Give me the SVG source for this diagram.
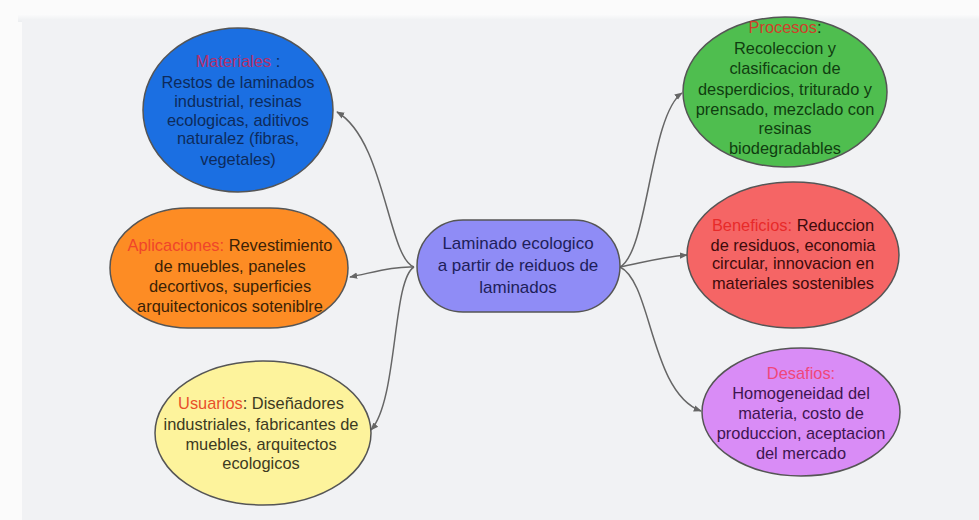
<svg xmlns="http://www.w3.org/2000/svg" width="979" height="520" viewBox="0 0 979 520">
<defs>
<marker id="arr" viewBox="0 0 10 10" refX="9" refY="5" markerWidth="8" markerHeight="8" markerUnits="userSpaceOnUse" orient="auto">
<path d="M0,1 L10,5 L0,9 Z" fill="#666"/>
</marker>
<linearGradient id="topsh" x1="0" y1="0" x2="0" y2="1">
<stop offset="0" stop-color="#fcfcfc"/><stop offset="1" stop-color="#eceef0"/>
</linearGradient>
<style>
.n{stroke:#555;stroke-width:1.5}
.t{font-family:"Liberation Sans",Arial,sans-serif;font-size:16.4px;text-anchor:middle}
.c{fill:none;stroke:#666;stroke-width:1.5;marker-end:url(#arr)}
</style>
</defs>
<rect width="979" height="520" fill="#fbfbfb"/>
<rect x="18" y="14" width="961" height="8" fill="url(#topsh)"/>
<rect x="22" y="20" width="957" height="500" fill="#f1f2f4"/>

<g id="connectors">
<path class="c" d="M414,267 C388,258 385,140 337,112"/>
<path class="c" d="M414,267 C395,266 375,272 350,277"/>
<path class="c" d="M414,267 C392,280 398,400 371,430"/>
<path class="c" d="M620,267 C648,252 650,115 682,93"/>
<path class="c" d="M620,267 C645,262 662,257 687,255"/>
<path class="c" d="M620,267 C652,282 650,392 701,411"/>
</g>

<g id="materiales">
<ellipse class="n" cx="238" cy="110" rx="95" ry="82" fill="#1b6fe2"/>
<text class="t" fill="#0d2b5c"><tspan x="238" y="67"><tspan fill="#b4306c">Materiales</tspan> :</tspan><tspan x="238" y="88">Restos de laminados</tspan><tspan x="238" y="107">industrial, resinas</tspan><tspan x="238" y="126">ecologicas, aditivos</tspan><tspan x="238" y="144">naturalez (fibras,</tspan><tspan x="238" y="165">vegetales)</tspan></text>
</g>

<g id="aplicaciones">
<rect class="n" x="110" y="208" width="238" height="120" rx="78" ry="60" fill="#fd8c24"/>
<text class="t" fill="#3b2206"><tspan x="230" y="251"><tspan fill="#f0452a">Aplicaciones:</tspan> Revestimiento</tspan><tspan x="230" y="272">de muebles, paneles</tspan><tspan x="230" y="292">decortivos, superficies</tspan><tspan x="230" y="312">arquitectonicos soteniblre</tspan></text>
</g>

<g id="usuarios">
<ellipse class="n" cx="263" cy="433" rx="108" ry="72" fill="#fdf39c"/>
<text class="t" fill="#3c3a22"><tspan x="261" y="409"><tspan fill="#e8502a">Usuarios</tspan>: Diseñadores</tspan><tspan x="261" y="430">industriales, fabricantes de</tspan><tspan x="261" y="450">muebles, arquitectos</tspan><tspan x="261" y="469">ecologicos</tspan></text>
</g>

<g id="central">
<rect class="n" x="417" y="220" width="203" height="92" rx="46" ry="46" fill="#8f8cf6"/>
<text class="t" style="font-size:17px" fill="#1e1e5a"><tspan x="518" y="249">Laminado ecologico</tspan><tspan x="518" y="271">a partir de reiduos de</tspan><tspan x="518" y="293">laminados</tspan></text>
</g>

<g id="procesos">
<ellipse class="n" cx="785" cy="92" rx="102" ry="75" fill="#4fbe4f"/>
<text class="t" fill="#103d10"><tspan x="785" y="33"><tspan fill="#d0402a">Procesos</tspan>:</tspan><tspan x="785" y="54">Recoleccion y</tspan><tspan x="785" y="74">clasificacion de</tspan><tspan x="785" y="95">desperdicios, triturado y</tspan><tspan x="785" y="115">prensado, mezclado con</tspan><tspan x="785" y="134">resinas</tspan><tspan x="785" y="154">biodegradables</tspan></text>
</g>

<g id="beneficios">
<ellipse class="n" cx="793" cy="255" rx="106" ry="73" fill="#f56565"/>
<text class="t" fill="#3d0b0b"><tspan x="793" y="231"><tspan fill="#e82a2a">Beneficios:</tspan> Reduccion</tspan><tspan x="793" y="251">de residuos, economia</tspan><tspan x="793" y="269">circular, innovacion en</tspan><tspan x="793" y="289">materiales sostenibles</tspan></text>
</g>

<g id="desafios">
<ellipse class="n" cx="801" cy="412" rx="99" ry="64" fill="#d98cf6"/>
<text class="t" fill="#3d1550"><tspan x="801" y="379" fill="#f0467a">Desafios:</tspan><tspan x="801" y="399">Homogeneidad del</tspan><tspan x="801" y="419">materia, costo de</tspan><tspan x="801" y="439">produccion, aceptacion</tspan><tspan x="801" y="459">del mercado</tspan></text>
</g>
</svg>
